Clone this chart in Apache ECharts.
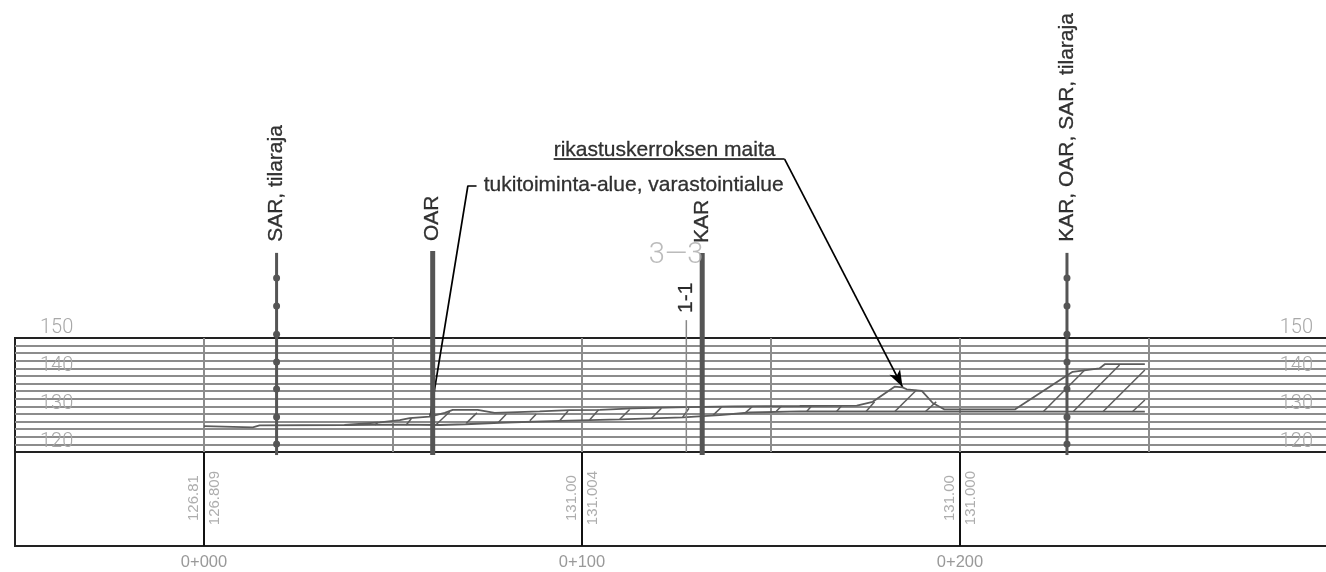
<!DOCTYPE html>
<html>
<head>
<meta charset="utf-8">
<title>Profile</title>
<script src="https://cdn.jsdelivr.net/npm/echarts@6/dist/echarts.min.js"></script>
<style>
  html, body { margin: 0; padding: 0; background: #fff; }
  #chart { width: 1326px; height: 572px; }
</style>
</head>
<body>
<div id="chart"></div>
<script>
  // stations along the section (m) and their labels
  var stations = [0, 100, 200]
  var stationNames = ['0+000', '0+100', '0+200']
  var heightTicks = [120, 130, 140, 150]
  var terrainTexts = ['126.81', '131.00', '131.00']
  var designTexts = ['126.809', '131.004', '131.000']

  // ground surface, top line [station, height]
  var topLine = [[0, 126.8], [12.9, 126.5], [14.7, 127.0], [37.2, 127.1], [46.5, 127.8], [51.8, 128.4], [54.4, 128.9],
    [59.7, 129.3], [63.7, 130.3], [65.8, 131.1], [72.4, 131.1], [76.9, 130.3], [88.8, 130.7], [96.7, 131.0],
    [104.7, 131.1], [113.4, 131.5], [127.7, 131.8], [139.9, 132.0], [157.6, 132.1], [172.7, 132.2], [176.9, 133.2],
    [182.7, 137.2], [184.8, 137.0], [185.9, 136.5], [189.9, 136.1], [192.8, 132.9], [195.9, 131.2], [214.5, 131.2],
    [229.8, 141.1], [236.9, 142.0], [238.3, 143.1], [248.9, 143.1]]
  // base line under the fill
  var baseLine = [[37.2, 127.1], [51.8, 127.2], [62.4, 127.1], [69.2, 127.3], [78.2, 127.7], [94.1, 128.2], [110, 128.6],
    [126.7, 129.1], [136.4, 129.7], [144.4, 130.4], [157.6, 130.7], [248.9, 130.6]]
  // hatching: x1, y1, x2, y2
  var hatch = [[45.2, 127.1, 46.0, 127.8], [53.5, 127.1, 54.9, 128.9], [61.5, 127.3, 65.0, 130.6], [69.4, 127.6, 72.2, 130.3],
    [77.8, 127.7, 80.0, 130.0], [86.2, 128.2, 87.9, 130.0], [94.1, 128.2, 96.3, 130.8], [102.0, 128.4, 104.4, 131.1],
    [110.0, 128.6, 112.6, 131.2], [118.4, 128.9, 121.0, 131.5], [126.6, 129.1, 128.3, 131.5], [134.7, 129.7, 137.0, 131.9],
    [143.2, 130.3, 145.0, 131.9], [151.4, 130.7, 152.8, 132.1], [159.4, 130.6, 160.7, 132.1], [167.3, 130.6, 168.6, 132.1],
    [175.1, 130.6, 177.4, 133.2], [182.7, 130.6, 188.5, 136.3], [190.8, 130.6, 193.7, 133.2], [222.0, 130.6, 233.0, 141.6],
    [229.9, 130.6, 242.2, 142.9], [237.8, 130.6, 248.9, 141.6], [245.6, 130.6, 248.9, 133.7]]

  // boundary markers
  var sarLine = [[19.2, 172.4], [19.2, 119.2]]
  var kosLine = [[228.3, 172.4], [228.3, 119.2]]
  var oarLine = [[60.5, 172.9], [60.5, 119.2]]
  var karLine = [[131.8, 172.4], [131.8, 119.2]]
  var sectionLine = [[127.6, 154.7], [127.6, 120]]
  var nodeHeights = [165.8, 158.4, 151, 143.7, 136.6, 129.2, 122.1]

  // leaders
  var supportLeader = [[72.1, 190], [69.8, 190], [59.8, 129.2]]
  var soilUnderline = [[92.5, 197.1], [153.6, 197.1]]
  var soilArrow = [[153.6, 197.1], [184.8, 137.1]]

  // texts: station, height, text
  var upNotes = [[19.2, 175.3, 'SAR, tilaraja'], [60.5, 175.5, 'OAR'], [131.8, 175, 'KAR'],
    [127.6, 156.6, '1-1'], [228.3, 175.3, 'KAR, OAR, SAR, tilaraja']]
  var flatNotes = [[92.5, 199.5, 'rikastuskerroksen maita'], [74, 190.3, 'tukitoiminta-alue, varastointialue']]
  var sectionMark = [[124.9, 171.6, '3\u20143']]

  var tableRow = 51
  var grayThin = 'Roboto'
  var ink = '#000'
  var mark = '#555'
  var ground = '#5c5c5c'

  function pts(list) {
    return list.map(function (p) { return { value: [p[0], p[1]], name: p[2] } })
  }
  function lineSeries(data, color, width, z) {
    return {
      type: 'line', data: data, clip: false, silent: true, symbol: 'none', z: z,
      lineStyle: { color: color, width: width, cap: 'butt' }, emphasis: { disabled: true }
    }
  }
  function textSeries(data, label, gridNo) {
    return {
      type: 'scatter', data: data, clip: false, silent: true, symbolSize: 0, z: 9,
      xAxisIndex: gridNo || 0, yAxisIndex: gridNo ? 2 : 0,
      label: Object.assign({ show: true, formatter: '{b}', position: 'inside' }, label)
    }
  }

  var chart = echarts.init(document.getElementById('chart'))
  var sideLabels = {
    show: true, inside: true, margin: 25, color: '#a8a8a8', fontFamily: grayThin, fontSize: 20, fontWeight: 300,
    verticalAlign: 'bottom', lineHeight: 20, padding: 0,
    formatter: function (v) { return heightTicks.indexOf(v) >= 0 ? String(v) : '' }
  }
  var option = {
    animation: false,
    backgroundColor: '#fff',
    grid: [
      { left: 15, width: 1323, top: 338, height: 114, outerBoundsMode: 'none', show: true, borderColor: '#222', borderWidth: 2, backgroundColor: 'transparent' },
      { left: 15, width: 1323, top: 452, height: 94, outerBoundsMode: 'none', show: true, borderColor: '#222', borderWidth: 2, backgroundColor: 'transparent' }
    ],
    xAxis: [
      {
        type: 'value', gridIndex: 0, min: -50, max: 300, interval: 50,
        axisLine: { show: false }, axisTick: { show: false }, axisLabel: { show: false },
        splitLine: { show: true, showMinLine: false, showMaxLine: false, lineStyle: { color: '#8c8c8c', width: 2 } }
      },
      {
        type: 'value', gridIndex: 1, min: -50, max: 300, interval: 50,
        axisLine: { show: false }, axisTick: { show: false }, splitLine: { show: false },
        axisLabel: {
          margin: 8, color: '#999', fontFamily: 'Liberation Sans', fontSize: 16.5,
          formatter: function (v) { var i = stations.indexOf(v); return i >= 0 ? stationNames[i] : '' }
        }
      }
    ],
    yAxis: [
      {
        type: 'value', gridIndex: 0, min: 120, max: 150, interval: 2, position: 'left',
        axisLine: { show: false }, axisTick: { show: false }, axisLabel: sideLabels,
        splitLine: { show: true, showMinLine: false, showMaxLine: false, lineStyle: { color: '#8c8c8c', width: 2 } }
      },
      {
        type: 'value', gridIndex: 0, min: 120, max: 150, interval: 2, position: 'right',
        axisLine: { show: false }, axisTick: { show: false }, axisLabel: sideLabels, splitLine: { show: false }
      },
      {
        type: 'value', gridIndex: 1, min: 0, max: 100, show: false
      }
    ],
    series: [
      lineSeries(supportLeader, ink, 1.7, 3),
      lineSeries(soilUnderline, ink, 1.7, 3),
      {
        type: 'lines', coordinateSystem: 'cartesian2d', clip: false, silent: true, z: 3,
        symbol: ['none', 'arrow'], symbolSize: [[1, 1], [9, 17]],
        lineStyle: { color: ink, width: 1.7, opacity: 1 },
        data: [{ coords: soilArrow }]
      },
      lineSeries(baseLine, ground, 1.8, 4),
      lineSeries(topLine, ground, 1.8, 4),
      {
        type: 'lines', coordinateSystem: 'cartesian2d', silent: true, z: 4,
        lineStyle: { color: ground, width: 1.5, opacity: 1 },
        data: hatch.map(function (h) { return { coords: [[h[0], h[1]], [h[2], h[3]]] } })
      },
      lineSeries(sectionLine, '#888', 1.5, 5),
      lineSeries(oarLine, mark, 5, 6),
      lineSeries(karLine, mark, 5, 6),
      lineSeries(sarLine, mark, 3, 6),
      lineSeries(kosLine, mark, 3, 6),
      {
        type: 'scatter', clip: false, silent: true, symbolSize: 7, z: 7, itemStyle: { color: mark, opacity: 1 },
        data: nodeHeights.map(function (h) { return [sarLine[0][0], h] })
          .concat(nodeHeights.map(function (h) { return [kosLine[0][0], h] }))
      },
      textSeries(pts(upNotes), { rotate: 90, align: 'left', verticalAlign: 'middle', color: ink, textBorderColor: ink, textBorderWidth: 0.3, fontFamily: 'Liberation Sans', fontSize: 21 }),
      textSeries(pts(flatNotes), { align: 'left', verticalAlign: 'middle', color: ink, textBorderColor: ink, textBorderWidth: 0.3, fontFamily: 'Liberation Sans', fontSize: 21 }),
      textSeries(pts(sectionMark), { align: 'center', verticalAlign: 'middle', color: '#aaa', fontFamily: grayThin, fontSize: 29, fontWeight: 300 }),
      {
        type: 'scatter', xAxisIndex: 1, yAxisIndex: 2, silent: true, symbolSize: 0, z: 3,
        data: stations.map(function (s) { return [s, 0] }),
        markLine: {
          silent: true, symbol: 'none', animation: false, label: { show: false },
          lineStyle: { color: '#111', width: 2, type: 'solid' },
          data: stations.map(function (s) { return { xAxis: s } })
        }
      },
      textSeries(stations.map(function (s, i) { return { value: [s, tableRow], name: terrainTexts[i] } }),
        { rotate: 90, align: 'center', verticalAlign: 'middle', offset: [0, -10], color: '#999', fontFamily: 'Liberation Sans', fontSize: 15 }, 1),
      textSeries(stations.map(function (s, i) { return { value: [s, tableRow], name: designTexts[i] } }),
        { rotate: 90, align: 'center', verticalAlign: 'middle', offset: [0, 10.5], color: '#999', fontFamily: 'Liberation Sans', fontSize: 15 }, 1)
    ]
  }
  chart.setOption(option)
</script>
</body>
</html>
